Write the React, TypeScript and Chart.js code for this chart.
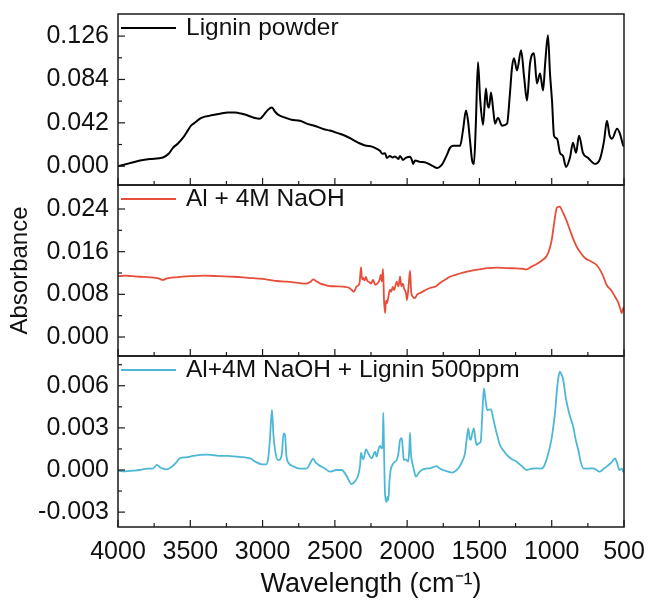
import React, { useEffect, useRef } from "react";
import { Chart, registerables } from "chart.js";

Chart.register(...registerables);

const FONT = "'Liberation Sans', Arial, Helvetica, sans-serif";

const xTickValues = [4000, 3500, 3000, 2500, 2000, 1500, 1000, 500];
const topTickValues = [0, 0.042, 0.084, 0.126];
const midTickValues = [0, 0.008, 0.016, 0.024];
const botTickValues = [-0.003, 0, 0.003, 0.006];

const seriesLabels = ["Lignin powder", "Al + 4M NaOH", "Al+4M NaOH + Lignin 500ppm"];
const seriesColors = ["#000000", "#E64E3A", "#4DB8D6"];

// Lignin powder
const ligninWavenumbers = [
  4000, 3917, 3848, 3779, 3689, 3650, 3620, 3585, 3550, 3520, 3495, 3460, 3433, 3400, 3364,
  3294, 3240, 3191, 3150, 3122, 3060, 3018, 2990, 2960, 2935, 2915, 2893, 2845, 2800, 2741,
  2690, 2637, 2580, 2534, 2480, 2430, 2380, 2326, 2290, 2243, 2200, 2188, 2170, 2153, 2140,
  2119, 2100, 2084, 2060, 2049, 2029, 2010, 1980, 1965, 1959, 1945, 1911, 1870, 1821, 1793,
  1770, 1752, 1725, 1704, 1683, 1650, 1634, 1614, 1593, 1580, 1565, 1550, 1538, 1525, 1510,
  1495, 1475, 1455, 1444, 1434, 1420, 1405, 1392, 1372, 1344, 1309, 1289, 1275, 1261, 1240,
  1212, 1190, 1171, 1150, 1123, 1102, 1081, 1060, 1045, 1026, 1012, 998, 984, 963, 943,
  922, 901, 874, 853, 832, 811, 784, 749, 701, 666, 638, 618, 600, 583, 548,
  528, 507, 500,
];
const ligninAbs = [
  0.0, 0.003, 0.0055, 0.007, 0.0085, 0.012, 0.0178, 0.022, 0.0276, 0.034, 0.0393, 0.043, 0.0461, 0.048, 0.049,
  0.0509, 0.052, 0.0519, 0.051, 0.05, 0.047, 0.046, 0.05, 0.055, 0.0568, 0.053, 0.05, 0.047, 0.045, 0.0441,
  0.041, 0.039, 0.036, 0.0345, 0.032, 0.0295, 0.026, 0.022, 0.02, 0.019, 0.016, 0.0149, 0.012, 0.0125, 0.008,
  0.01, 0.0085, 0.0095, 0.007, 0.01, 0.0061, 0.008, 0.0091, 0.005, 0.0022, 0.0055, 0.0042, 0.0035, 0.0, -0.0017,
  0.0, 0.0032, 0.011, 0.0178, 0.0198, 0.0198, 0.0198, 0.0344, 0.0539, 0.045, 0.0246, 0.005, 0.0022, 0.04, 0.1006,
  0.065, 0.0402, 0.0753, 0.06, 0.0568, 0.0714, 0.055, 0.0412, 0.047, 0.0393, 0.0412, 0.0704, 0.095, 0.1045, 0.0928,
  0.1123, 0.085, 0.0636, 0.0996, 0.1094, 0.0802, 0.0899, 0.0733, 0.1, 0.1269, 0.09, 0.0636, 0.0295, 0.0266, 0.013,
  0.01, -0.0007, 0.0081, 0.0227, 0.013, 0.0295, 0.013, 0.0081, 0.0022, 0.0071, 0.0246, 0.0441, 0.03, 0.0266, 0.0363,
  0.0315, 0.0207, 0.019,
];

// Al + 4M NaOH
const naohWavenumbers = [
  4000, 3950, 3900, 3850, 3780, 3720, 3690, 3660, 3600, 3500, 3400, 3300, 3200, 3100, 3000,
  2950, 2900, 2850, 2800, 2741, 2700, 2670, 2650, 2630, 2600, 2560, 2534, 2490, 2444, 2400,
  2375, 2368, 2349, 2330, 2319, 2312, 2305, 2295, 2285, 2275, 2264, 2250, 2236, 2220, 2202,
  2190, 2183, 2175, 2167, 2160, 2153, 2146, 2139, 2130, 2119, 2110, 2100, 2090, 2080, 2072,
  2060, 2049, 2040, 2031, 2020, 2008, 2001, 1990, 1980, 1972, 1968, 1946, 1930, 1911, 1880,
  1842, 1800, 1773, 1740, 1704, 1660, 1614, 1560, 1496, 1440, 1381, 1300, 1242, 1200, 1173,
  1140, 1104, 1070, 1035, 1015, 1000, 985, 966, 955, 943, 930, 920, 900, 874, 850,
  827, 800, 770, 730, 689, 650, 620, 590, 562, 540, 528, 515, 509, 503, 500,
];
const naohAbs = [
  0.0114, 0.0115, 0.0114, 0.0113, 0.0112, 0.011, 0.0107, 0.011, 0.0112, 0.0114, 0.0115, 0.0114, 0.0113, 0.0111, 0.0109,
  0.0107, 0.0105, 0.0104, 0.0103, 0.0101, 0.01, 0.0103, 0.0108, 0.0105, 0.01, 0.0097, 0.00956, 0.0095, 0.00943, 0.0092,
  0.0086, 0.0085, 0.0095, 0.01, 0.0131, 0.0108, 0.0111, 0.0106, 0.01125, 0.0105, 0.01037, 0.01, 0.01069, 0.0098, 0.01013,
  0.0108, 0.01163, 0.0104, 0.01275, 0.007, 0.0045, 0.0068, 0.00638, 0.0075, 0.00881, 0.0085, 0.0094, 0.0088, 0.0097, 0.01037,
  0.0095, 0.0113, 0.0095, 0.01, 0.009, 0.00825, 0.00694, 0.0095, 0.01243, 0.0085, 0.00788, 0.00731, 0.008, 0.00825, 0.0087,
  0.00919, 0.0095, 0.01013, 0.0107, 0.0113, 0.0117, 0.01206, 0.0124, 0.01269, 0.0129, 0.013, 0.0129, 0.01288, 0.0128, 0.01269,
  0.0132, 0.01369, 0.0143, 0.01519, 0.0165, 0.01819, 0.021, 0.02413, 0.0244, 0.02443, 0.0238, 0.02325, 0.022, 0.02006, 0.0183,
  0.01693, 0.0158, 0.01481, 0.0142, 0.0135, 0.0118, 0.00975, 0.0088, 0.00756, 0.0065, 0.0055, 0.0045, 0.00506, 0.0055, 0.005,
];

// Al+4M NaOH + Lignin 500ppm
const mixWavenumbers = [
  4000, 3950, 3896, 3850, 3800, 3760, 3730, 3710, 3689, 3661, 3620, 3600, 3571, 3530, 3481,
  3433, 3380, 3330, 3294, 3240, 3180, 3122, 3080, 3052, 3004, 2976, 2960, 2949, 2935, 2925,
  2910, 2893, 2875, 2866, 2855, 2845, 2835, 2820, 2796, 2741, 2700, 2686, 2665, 2651, 2630,
  2617, 2568, 2534, 2490, 2453, 2420, 2384, 2360, 2338, 2325, 2319, 2310, 2303, 2285, 2265,
  2245, 2222, 2211, 2200, 2188, 2176, 2168, 2165, 2160, 2153, 2141, 2135, 2130, 2122, 2114,
  2100, 2084, 2072, 2060, 2049, 2037, 2028, 2022, 2008, 1992, 1985, 1980, 1974, 1968, 1955,
  1939, 1920, 1899, 1870, 1842, 1820, 1796, 1775, 1750, 1720, 1692, 1670, 1646, 1620, 1600,
  1590, 1577, 1568, 1560, 1550, 1538, 1528, 1519, 1505, 1491, 1480, 1469, 1458, 1446, 1435,
  1420, 1405, 1392, 1375, 1358, 1335, 1311, 1280, 1242, 1210, 1173, 1140, 1104, 1080, 1058,
  1040, 1024, 1005, 989, 975, 966, 955, 943, 932, 920, 905, 885, 870, 851, 835,
  816, 800, 782, 750, 712, 690, 666, 640, 620, 590, 562, 545, 532, 515, 505,
  500,
];
const mixAbs = [
  -0.00005, -0.0001, -0.00005, 0.0, 0.0001, 0.0001, 0.00036, 0.0002, 0.0001, 0.00005, 0.0003, 0.0005, 0.00085, 0.0009, 0.001,
  0.00107, 0.0011, 0.00105, 0.001, 0.001, 0.00095, 0.0009, 0.0008, 0.0006, 0.0004, 0.0004, 0.0009, 0.0022, 0.0043, 0.0025,
  0.0012, 0.0007, 0.0008, 0.0012, 0.0026, 0.0025, 0.001, 0.0005, 0.0003, 0.0001, 0.0001, 0.0002, 0.0006, 0.0008, 0.0005,
  0.0004, 0.0001, -0.00012, 0.0, 0.0, -0.0004, -0.001, -0.0008, -0.00036, 0.0004, 0.00123, 0.0009, 0.00076, 0.00147, 0.0011,
  0.00083, 0.0013, 0.00095, 0.0014, 0.00171, 0.00154, 0.0022, 0.00408, 0.0015, -0.00166, -0.00226, -0.0019, -0.00214, -0.0008, 0.0,
  0.0004, 0.00059, 0.00071, 0.0012, 0.00214, 0.00226, 0.0012, 0.00071, 0.00076, 0.00059, 0.0015, 0.00266, 0.0012, 0.00071, 0.0001,
  -0.00048, -0.0002, 0.0, 0.0001, 0.00012, 0.0002, 0.00028, 0.0001, 0.0, -0.0001, -0.00019, -0.0001, 0.00012, 0.0006, 0.00119,
  0.002, 0.00297, 0.0023, 0.00214, 0.0026, 0.00297, 0.0022, 0.00178, 0.0019, 0.00202, 0.004, 0.00582, 0.005, 0.00427, 0.0043,
  0.00432, 0.0037, 0.00308, 0.0024, 0.00178, 0.0014, 0.00107, 0.0008, 0.00059, 0.0003, 0.0, 0.0001, 0.00012, 0.0001, 0.00019,
  0.0006, 0.00119, 0.002, 0.00308, 0.0043, 0.00546, 0.0065, 0.007, 0.0068, 0.00641, 0.0053, 0.00427, 0.0037, 0.00308, 0.0022,
  0.00142, 0.0006, 0.00012, 0.0001, 0.00012, 0.0, -0.00012, 0.0001, 0.00024, 0.0005, 0.00083, 0.0004, 0.0, 0.0001, -0.00012,
  -0.0001,
];

const panelIds = ["yTop", "yMid", "yBot"];
const panelTicks = [topTickValues, midTickValues, botTickValues];

const panelPlugin = {
  id: "panelDecor",
  afterDatasetsDraw(chart: any) {
    const ctx = chart.ctx as CanvasRenderingContext2D;
    const { left, right } = chart.chartArea;
    const xs = chart.scales.x;
    const line = (x1: number, y1: number, x2: number, y2: number) => {
      ctx.beginPath();
      ctx.moveTo(x1, y1);
      ctx.lineTo(x2, y2);
      ctx.stroke();
    };
    panelIds.forEach((id, i) => {
      const s = chart.scales[id];
      ctx.save();
      ctx.strokeStyle = "#1a1a1a";
      ctx.lineWidth = 1.5;
      ctx.strokeRect(left, s.top, right - left, s.bottom - s.top);
      ctx.lineWidth = 1.2;
      const major = panelTicks[i];
      major.forEach((v) => {
        const y = s.getPixelForValue(v);
        line(left, y, left + 7, y);
      });
      const step = major[1] - major[0];
      for (let j = -2; j < major.length + 2; j++) {
        const v = major[0] + (j + 0.5) * step;
        const y = s.getPixelForValue(v);
        if (y > s.top + 3 && y < s.bottom - 3) line(left, y, left + 4, y);
      }
      xTickValues.forEach((w) => {
        const x = xs.getPixelForValue(w);
        line(x, s.bottom, x, s.bottom - 7);
      });
      for (let k = 0; k < xTickValues.length - 1; k++) {
        const w = (xTickValues[k] + xTickValues[k + 1]) / 2;
        const x = xs.getPixelForValue(w);
        line(x, s.bottom, x, s.bottom - 4);
      }
      const ds = chart.data.datasets[i];
      ctx.strokeStyle = ds.borderColor;
      ctx.lineWidth = 2;
      line(left + 3, s.top + 14, left + 58, s.top + 14);
      ctx.fillStyle = "#111";
      ctx.font = `24.5px ${FONT}`;
      ctx.textBaseline = "middle";
      ctx.textAlign = "left";
      ctx.fillText(ds.label, left + 68, s.top + 14);
      ctx.restore();
    });
  },
};

function yScale(min: number, max: number, ticks: number[], weight: number, title?: string) {
  return {
    type: "linear",
    position: "left",
    stack: "panels",
    stackWeight: 1,
    weight,
    min,
    max,
    afterBuildTicks: (s: any) => {
      s.ticks = ticks.map((v) => ({ value: v }));
    },
    afterFit: (s: any) => {
      s.width = 118;
      s.paddingTop = 0;
      s.paddingBottom = 0;
    },
    ticks: {
      autoSkip: false,
      callback: (v: any) => Number(v).toFixed(3),
      padding: 1,
      color: "#111",
      font: { family: FONT, size: 25 },
    },
    grid: { display: false },
    border: { display: false },
    title: title
      ? { display: true, text: title, color: "#111", font: { family: FONT, size: 24 }, padding: { top: 6, bottom: 0 } }
      : { display: false },
  };
}

export default function App() {
  const ref = useRef<HTMLCanvasElement | null>(null);
  useEffect(() => {
    if (!ref.current) return;
    const mk = (ws: number[], vs: number[]) => ws.map((w, i) => ({ x: w, y: vs[i] }));
    const chart = new Chart(ref.current, {
      type: "line",
      data: {
        datasets: [
          { label: seriesLabels[0], data: mk(ligninWavenumbers, ligninAbs), yAxisID: "yTop", borderColor: seriesColors[0], borderWidth: 2 },
          { label: seriesLabels[1], data: mk(naohWavenumbers, naohAbs), yAxisID: "yMid", borderColor: seriesColors[1], borderWidth: 1.8 },
          { label: seriesLabels[2], data: mk(mixWavenumbers, mixAbs), yAxisID: "yBot", borderColor: seriesColors[2], borderWidth: 1.8 },
        ] as any,
      },
      options: {
        animation: false,
        responsive: true,
        maintainAspectRatio: false,
        elements: { point: { radius: 0 }, line: { cubicInterpolationMode: "monotone" } },
        layout: { padding: { left: 0, right: 25, top: 14, bottom: 0 } },
        plugins: { legend: { display: false }, tooltip: { enabled: false } },
        scales: {
          x: {
            type: "linear",
            min: 500,
            max: 4000,
            reverse: true,
            afterBuildTicks: (s: any) => {
              s.ticks = xTickValues.map((v) => ({ value: v }));
            },
            afterFit: (s: any) => {
              s.height = 75;
              s.paddingLeft = 0;
              s.paddingRight = 0;
            },
            ticks: {
              autoSkip: false,
              maxRotation: 0,
              padding: 2,
              color: "#111",
              font: { family: FONT, size: 25 },
              callback: (v: any) => String(v),
            },
            grid: { display: false },
            border: { display: false },
            title: {
              display: true,
              text: "Wavelength (cm\u207B\u00B9)",
              color: "#111",
              font: { family: FONT, size: 27 },
              padding: { top: 0, bottom: 1 },
            },
          },
          yBot: yScale(-0.00406, 0.00812, botTickValues, 1),
          yMid: yScale(-0.00356, 0.0285, midTickValues, 2, "Absorbance"),
          yTop: yScale(-0.0182, 0.1474, topTickValues, 3),
        } as any,
      },
      plugins: [panelPlugin],
    });
    return () => chart.destroy();
  }, []);
  return (
    <div style={{ position: "fixed", left: 0, top: 0, width: 649, height: 602, background: "#fff" }}>
      <canvas ref={ref} />
    </div>
  );
}
